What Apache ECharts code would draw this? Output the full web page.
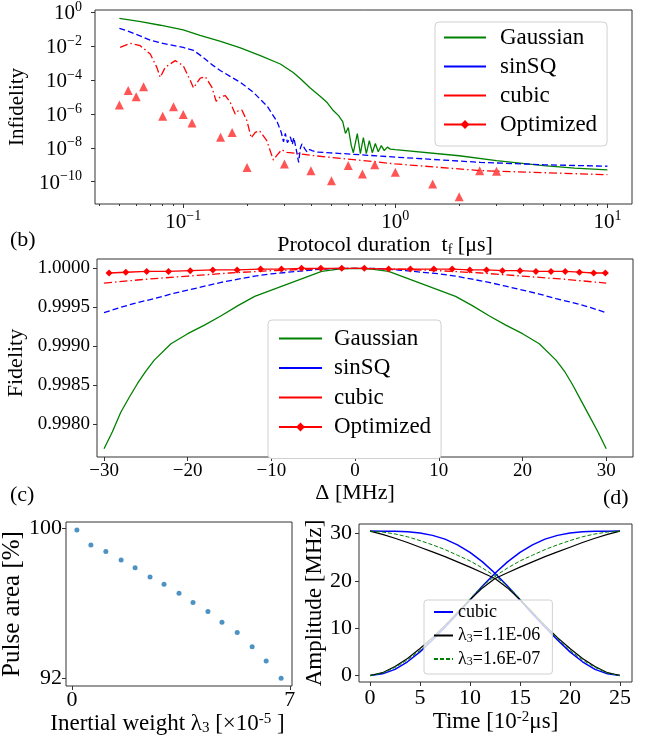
<!DOCTYPE html>
<html><head><meta charset="utf-8">
<script src="https://cdn.jsdelivr.net/npm/echarts@6/dist/echarts.min.js"></script>
<style>html,body{margin:0;padding:0;background:#fff}#c{width:656px;height:740px}</style>
</head><body><div id="c"></div>
<script>
// ---------- Panel (a): infidelity vs protocol duration (values as log10 of infidelity) ----------
const gaussT = [0.050,0.063,0.078,0.100,0.120,0.150,0.186,0.231,0.287,0.330,0.357,0.397,0.442,0.477,0.510,0.540,0.565,0.582,0.600,0.620,0.634,0.662,0.684,0.707,0.730,0.754,0.779,0.805,0.831,0.859,0.887,0.917,0.947,1.00,2.00,3.00,5.00,7.00,10.0];
const gaussLog = [-0.35,-0.55,-0.76,-1.03,-1.36,-1.72,-2.10,-2.55,-3.05,-3.55,-3.92,-4.47,-4.95,-5.33,-5.80,-6.10,-6.45,-7.15,-6.80,-7.87,-8.29,-7.16,-8.35,-7.40,-8.35,-7.58,-8.29,-7.75,-8.23,-7.87,-8.17,-7.96,-8.08,-8.11,-8.47,-8.76,-9.05,-9.20,-9.31];
const sinT = [0.050,0.056,0.063,0.070,0.078,0.087,0.100,0.112,0.124,0.137,0.150,0.170,0.186,0.214,0.249,0.277,0.290,0.297,0.303,0.310,0.320,0.327,0.332,0.340,0.350,0.357,0.363,0.374,0.384,0.395,0.405,0.428,0.494,0.594,1.00,2.52,5.00,10.0];
const sinLog = [-0.94,-1.15,-1.40,-1.65,-1.80,-1.92,-2.07,-2.25,-2.65,-3.10,-3.45,-3.85,-4.13,-4.72,-5.55,-6.45,-7.10,-7.65,-7.15,-7.70,-7.35,-7.80,-7.40,-8.00,-8.86,-8.00,-7.77,-8.05,-8.25,-8.10,-8.17,-8.25,-8.30,-8.36,-8.55,-8.86,-9.00,-9.09];
const cubT = [0.0504,0.0562,0.0627,0.0699,0.0751,0.0779,0.0822,0.0917,0.100,0.108,0.1118,0.1203,0.127,0.1366,0.143,0.1495,0.158,0.1665,0.1758,0.1817,0.189,0.1997,0.2092,0.2185,0.2289,0.2478,0.2660,0.2758,0.2912,0.3078,0.3431,0.410,1.00,2.52,10.0];
const cubLog = [-2.07,-1.83,-1.97,-2.46,-3.25,-3.84,-3.25,-2.85,-3.15,-4.03,-4.47,-3.88,-3.80,-4.43,-5.26,-4.98,-4.92,-5.31,-6.00,-5.81,-5.77,-6.40,-7.42,-7.09,-6.99,-7.58,-8.72,-8.46,-8.11,-8.27,-8.33,-8.46,-8.95,-9.35,-9.59];
const optT = [0.05,0.055,0.06,0.065,0.08,0.09,0.10,0.11,0.15,0.17,0.20,0.30,0.40,0.50,0.60,0.70,0.80,1.0,1.5,2.0,2.5,3.0];
const optLog = [-5.47,-4.62,-4.98,-4.39,-6.14,-5.57,-6.04,-6.53,-7.38,-7.09,-9.16,-8.95,-9.35,-9.94,-9.05,-9.55,-9.00,-9.45,-10.14,-10.89,-9.35,-9.39];
const aXMajor = [0.1, 1, 10];
const aXMinor = [0.04,0.05,0.06,0.07,0.08,0.09,0.2,0.3,0.4,0.5,0.6,0.7,0.8,0.9,2,3,4,5,6,7,8,9];
const aYTicks = [1e-10,1e-8,1e-6,1e-4,1e-2,1];

// ---------- Panel (b): fidelity vs detuning ----------
const gaussBD = [-30,-29,-28,-27,-26,-25,-24,-22,-20,-18,-16,-14,-12,-10,-8,-6,-4,-2,0,2,4,6,8,10,12,14,16,18,20,22,24,25,26,27,28,29,30];
const gaussBF = [0.99768,0.99790,0.99815,0.99834,0.99852,0.99868,0.99882,0.99903,0.99916,0.99927,0.99939,0.99952,0.99964,0.99972,0.99980,0.99988,0.99996,0.99999,1.00000,0.99999,0.99996,0.99988,0.99980,0.99972,0.99964,0.99952,0.99939,0.99927,0.99916,0.99903,0.99882,0.99868,0.99850,0.99830,0.99810,0.99790,0.99768];
const sinBD = [-30,-28,-26,-24,-22,-20,-18,-16,-14,-12,-10,-8,-6,-4,-2,0,2,4,6,8,10,12,14,16,18,20,22,24,26,28,30];
const sinBF = [0.99943,0.99950,0.99956,0.99961,0.99967,0.99972,0.99977,0.99982,0.99986,0.99990,0.99993,0.99995,0.99997,0.99999,1.00000,1.00000,1.00000,0.99999,0.99997,0.99995,0.99993,0.99990,0.99986,0.99982,0.99977,0.99972,0.99967,0.99961,0.99956,0.99950,0.99943];
const cubBD = [-30,-25,-20,-15,-10,-5,0,5,10,15,20,25,30];
const cubBF = [0.99981,0.99986,0.99990,0.99994,0.99997,0.99999,1.00000,0.99999,0.99997,0.99994,0.99990,0.99986,0.99981];
const optBD = [-29.4,-27.4,-24.9,-22.3,-19.7,-17.0,-14.1,-11.3,-8.8,-6.4,-4.1,-1.6,1.1,4.0,6.6,9.4,11.6,13.7,15.7,17.6,19.7,21.6,23.4,25.1,26.8,28.5,29.9];
const optBF = [0.99994,0.99995,0.99996,0.99996,0.99997,0.99998,0.99998,0.99999,0.99999,1.0,1.0,1.0,1.0,0.99999,0.99999,0.99999,0.99999,0.99998,0.99998,0.99997,0.99997,0.99996,0.99996,0.99996,0.99995,0.99994,0.99994];
const bXTicks = [-30,-20,-10,0,10,20,30];
const bYTicks = [0.998,0.9985,0.999,0.9995,1.0];

// ---------- Panel (c): pulse area vs inertial weight ----------
const lam = [0.16,0.61,1.09,1.58,2.03,2.51,2.96,3.44,3.89,4.37,4.82,5.31,5.79,6.24,6.72];
const area = [99.89,99.09,98.74,98.29,97.88,97.39,97.00,96.52,96.02,95.54,94.97,94.42,93.67,92.91,91.98];
const cXTicks = [0,7];
const cYTicks = [92,100];

// ---------- Panel (d): amplitudes vs time ----------
const timeD = [0,1.25,2.5,3.75,5,6.25,7.5,8.75,10,11.25,12.5,13.75,15,16.25,17.5,18.75,20,21.25,22.5,23.75,25];
const cubicFall = [30.5,30.49,30.45,30.35,30.1,29.6,28.8,27.6,26.0,24.0,21.6,18.9,16.0,13.0,10.2,7.5,5.0,2.9,1.3,0.35,0];
const cubicRise = [0,0.35,1.3,2.9,5.0,7.5,10.2,13.0,16.0,18.9,21.6,24.0,26.0,27.6,28.8,29.6,30.1,30.35,30.45,30.49,30.5];
const l1Fall = [30.5,29.8,29.0,28.1,27.1,26.1,25.1,24.0,22.9,21.7,20.5,18.5,16.0,13.3,10.6,8.0,5.7,3.6,1.9,0.6,0];
const l1Rise = [0,0.6,1.9,3.6,5.7,8.0,10.6,13.3,16.0,18.5,20.5,21.7,22.9,24.0,25.1,26.1,27.1,28.1,29.0,29.8,30.5];
const l2Fall = [30.5,30.3,29.9,29.3,28.5,27.6,26.6,25.4,24.2,22.7,21.0,18.9,16.2,13.4,10.5,7.8,5.3,3.3,1.7,0.5,0];
const l2Rise = [0,0.5,1.7,3.3,5.3,7.8,10.5,13.4,16.2,18.9,21.0,22.7,24.2,25.4,26.6,27.6,28.5,29.3,29.9,30.3,30.5];
const dXTicks = [0,5,10,15,20,25];
const dYTicks = [0,10,20,30];

// ---------- build ----------
const F = "'Liberation Serif','Times New Roman',serif";
const MINUS = '\u2212';
const pow10 = v => Math.pow(10, v);
const pair = (xs, ys, f) => xs.map((x, i) => [x, f ? f(ys[i]) : ys[i]]);
const num = v => String(v).replace('-', MINUS);
const logLabel = v => '{b|10}{s|' + num(Math.round(Math.log10(v))) + '}';
const richLog = {
  b: {fontFamily: F, fontSize: 21, lineHeight: 24, verticalAlign: 'bottom', color: '#000'},
  s: {fontFamily: F, fontSize: 14, lineHeight: 12, verticalAlign: 'top', color: '#000'}
};
const AX = '#333';
const NOLINE = {show: false, onZero: false};
const tick = (vals, len) => ({show: true, customValues: vals, length: len || 4, lineStyle: {color: AX, width: 1}});
const lab = (vals, size, margin, fmt, rich) => {
  const o = {show: true, customValues: vals, fontFamily: F, fontSize: size, color: '#000', margin: margin, formatter: fmt};
  if (rich) o.rich = rich;
  return o;
};
const nameStyle = (size, extra) => Object.assign({fontFamily: F, fontSize: size, color: '#000'}, extra || {});
const subRich = size => ({fontFamily: F, fontSize: size, lineHeight: 6, verticalAlign: 'bottom', color: '#000'});
const supRich = size => ({fontFamily: F, fontSize: size, lineHeight: 10, verticalAlign: 'top', color: '#000'});
const gridBase = {show: true, borderColor: AX, borderWidth: 1, backgroundColor: 'transparent', containLabel: false, outerBoundsMode: 'none'};
const lineS = (name, xi, yi, data, color, type, width) => ({
  name: name, type: 'line', xAxisIndex: xi, yAxisIndex: yi, data: data, symbol: 'none', showSymbol: false,
  lineStyle: {color: color, width: width || 1.3, type: type || 'solid'}, itemStyle: {color: color}, z: 3
});
const DASH = [6, 3];
const DASHDOT = [8, 3, 1.5, 3];

const option = {
  animation: false,
  backgroundColor: '#fff',
  textStyle: {fontFamily: F},
  title: [
    {text: '(b)', left: 10, top: 229, padding: 0, textStyle: {fontFamily: F, fontSize: 22, fontWeight: 'normal', color: '#000'}},
    {text: '(c)', left: 10, top: 484, padding: 0, textStyle: {fontFamily: F, fontSize: 22, fontWeight: 'normal', color: '#000'}},
    {text: '(d)', left: 603, top: 487, padding: 0, textStyle: {fontFamily: F, fontSize: 22, fontWeight: 'normal', color: '#000'}}
  ],
  grid: [
    Object.assign({left: 95, top: 10, width: 537, height: 194}, gridBase),
    Object.assign({left: 97, top: 259, width: 536, height: 198}, gridBase),
    Object.assign({left: 66, top: 522, width: 226, height: 164}, gridBase),
    Object.assign({left: 359, top: 524, width: 273, height: 158}, gridBase)
  ],
  xAxis: [
    {gridIndex: 0, type: 'log', logBase: 10, min: pow10(-1.416), max: pow10(1.116), position: 'bottom',
     axisLine: NOLINE, splitLine: {show: false}, axisTick: tick(aXMajor, 4),
     axisLabel: lab(aXMajor, 21, 5, logLabel, richLog),
     name: 'Protocol duration  t{sub|f} [\u03bcs]', nameLocation: 'middle', nameGap: 24,
     nameTextStyle: nameStyle(22, {lineHeight: 23, padding: [0, 0, 0, 43], rich: {sub: subRich(14)}})},
    {gridIndex: 0, type: 'log', logBase: 10, min: pow10(-1.416), max: pow10(1.116), position: 'bottom',
     axisLine: NOLINE, splitLine: {show: false}, axisTick: tick(aXMinor, 2), axisLabel: {show: false}},
    {gridIndex: 1, type: 'value', min: -30.84, max: 33.2, axisLine: NOLINE, splitLine: {show: false},
     axisTick: tick(bXTicks, 4), axisLabel: lab(bXTicks, 19, 5, v => num(v)),
     name: '\u0394 [MHz]', nameLocation: 'middle', nameGap: 22, nameTextStyle: nameStyle(22, {padding: [0, 20, 0, 0]})},
    {gridIndex: 2, type: 'value', min: -0.19, max: 7.07, axisLine: NOLINE, splitLine: {show: false},
     axisTick: tick(cXTicks, 4), axisLabel: lab(cXTicks, 22, 3, v => num(v)),
     name: 'Inertial weight \u03bb{sub|3} [\u00d710{sup|-5} ]', nameLocation: 'middle', nameGap: 20,
     nameTextStyle: nameStyle(23, {lineHeight: 24, padding: [0, 23, 0, 0], rich: {sub: subRich(15), sup: supRich(15)}})},
    {gridIndex: 3, type: 'value', min: -1.1, max: 26.2, axisLine: NOLINE, splitLine: {show: false},
     axisTick: tick(dXTicks, 4), axisLabel: lab(dXTicks, 22, 5, v => num(v)),
     name: 'Time [10{sup|-2}\u03bcs]', nameLocation: 'middle', nameGap: 25,
     nameTextStyle: nameStyle(23, {lineHeight: 24, rich: {sup: supRich(15)}})}
  ],
  yAxis: [
    {gridIndex: 0, type: 'log', logBase: 10, min: pow10(-11.32), max: pow10(0.14),
     axisLine: NOLINE, splitLine: {show: false}, axisTick: tick(aYTicks, 4),
     axisLabel: lab(aYTicks, 21, 13, logLabel, richLog),
     name: 'Infidelity', nameLocation: 'middle', nameGap: 57, nameTextStyle: nameStyle(21)},
    {gridIndex: 1, type: 'value', min: 0.997575, max: 1.00012, axisLine: NOLINE, splitLine: {show: false},
     axisTick: tick(bYTicks, 4), axisLabel: lab(bYTicks, 19, 7, v => v.toFixed(4)),
     name: 'Fidelity', nameLocation: 'middle', nameGap: 62, nameTextStyle: nameStyle(22, {padding: [0, 10, 0, 0]})},
    {gridIndex: 2, type: 'value', min: 91.57, max: 100.32, axisLine: NOLINE, splitLine: {show: false},
     axisTick: tick(cYTicks, 4), axisLabel: lab(cYTicks, 22, 4, v => num(v)),
     name: 'Pulse area [%]', nameLocation: 'middle', nameGap: 30, nameTextStyle: nameStyle(25)},
    {gridIndex: 3, type: 'value', min: -1.37, max: 32.0, axisLine: NOLINE, splitLine: {show: false},
     axisTick: tick(dYTicks, 4), axisLabel: lab(dYTicks, 22, 7, v => num(v)),
     name: 'Amplitude [MHz]', nameLocation: 'middle', nameGap: 30, nameTextStyle: nameStyle(23)}
  ],
  legend: [
    {selectedMode: false, orient: 'vertical', left: 435, top: 22, z: 10,
     data: ['Gaussian', 'sinSQ', 'cubic', {name: 'Optimized', itemStyle: {opacity: 1}}],
     itemWidth: 42, itemHeight: 11, itemGap: 6, padding: [4, 10, 10, 8],
     backgroundColor: '#fff', borderColor: '#d0d0d0', borderWidth: 1, borderRadius: 4,
     itemStyle: {opacity: 0}, lineStyle: {type: 'solid'},
     textStyle: {fontFamily: F, fontSize: 23, lineHeight: 20, color: '#000', padding: [0, 0, 0, 9]}},
    {selectedMode: false, orient: 'vertical', left: 268, top: 320, z: 10,
     data: ['Gaussian', 'sinSQ', 'cubic', {name: 'Optimized', itemStyle: {opacity: 1}}],
     itemWidth: 43, itemHeight: 11, itemGap: 6.5, padding: [7, 10, 20, 10],
     backgroundColor: '#fff', borderColor: '#d0d0d0', borderWidth: 1, borderRadius: 4,
     itemStyle: {opacity: 0}, lineStyle: {type: 'solid'},
     textStyle: {fontFamily: F, fontSize: 23, lineHeight: 19.5, color: '#000', padding: [0, 0, 0, 7]}},
    {selectedMode: false, orient: 'vertical', left: 424, top: 600, z: 10,
     data: ['d-cubic', 'd-l1', 'd-l2'],
     formatter: n => ({'d-cubic': 'cubic', 'd-l1': '\u03bb{sub|3}=1.1E-06', 'd-l2': '\u03bb{sub|3}=1.6E-07'})[n],
     itemWidth: 19, itemHeight: 8, itemGap: 5.5, padding: [3, 12, 6, 9],
     backgroundColor: 'rgba(255,255,255,0.8)', borderColor: '#d0d0d0', borderWidth: 1, borderRadius: 3,
     itemStyle: {opacity: 0},
     textStyle: {fontFamily: F, fontSize: 18, lineHeight: 18, color: '#000', rich: {sub: subRich(12)}}}
  ],
  series: [
    // (a)
    lineS('Gaussian', 0, 0, pair(gaussT, gaussLog, pow10), '#008000'),
    lineS('sinSQ', 0, 0, pair(sinT, sinLog, pow10), '#0000ff', DASH),
    lineS('cubic', 0, 0, pair(cubT, cubLog, pow10), '#ff0000', DASHDOT),
    {name: 'Optimized points', type: 'scatter', xAxisIndex: 0, yAxisIndex: 0, data: pair(optT, optLog, pow10),
     symbol: 'triangle', symbolSize: 9, itemStyle: {color: '#ff2a2a'}, z: 4},
    // (b)
    lineS('Gaussian', 2, 1, pair(gaussBD, gaussBF), '#008000'),
    lineS('sinSQ', 2, 1, pair(sinBD, sinBF), '#0000ff', DASH),
    lineS('cubic', 2, 1, pair(cubBD, cubBF), '#ff0000', DASHDOT),
    {name: 'Optimized', type: 'line', xAxisIndex: 2, yAxisIndex: 1, data: pair(optBD, optBF),
     symbol: 'diamond', symbolSize: 7, showSymbol: true, lineStyle: {color: '#ff0000', width: 1.3}, itemStyle: {color: '#ff0000'}, z: 4},
    // (c)
    {name: 'Pulse area', type: 'scatter', xAxisIndex: 3, yAxisIndex: 2, data: pair(lam, area),
     symbol: 'circle', symbolSize: 5, itemStyle: {color: '#1f77b4'}},
    // (d)
    lineS('d-cubic', 4, 3, pair(timeD, cubicFall), '#0000ff', 'solid', 1.5),
    lineS('d-cubic', 4, 3, pair(timeD, cubicRise), '#0000ff', 'solid', 1.5),
    lineS('d-l1', 4, 3, pair(timeD, l1Fall), '#000000', 'solid', 1.2),
    lineS('d-l1', 4, 3, pair(timeD, l1Rise), '#000000', 'solid', 1.2),
    lineS('d-l2', 4, 3, pair(timeD, l2Fall), '#008000', [4, 2], 1),
    lineS('d-l2', 4, 3, pair(timeD, l2Rise), '#008000', [4, 2], 1)
  ]
};
const chart = echarts.init(document.getElementById('c'), null, {renderer: 'canvas', width: 656, height: 740});
chart.setOption(option);
</script></body></html>
